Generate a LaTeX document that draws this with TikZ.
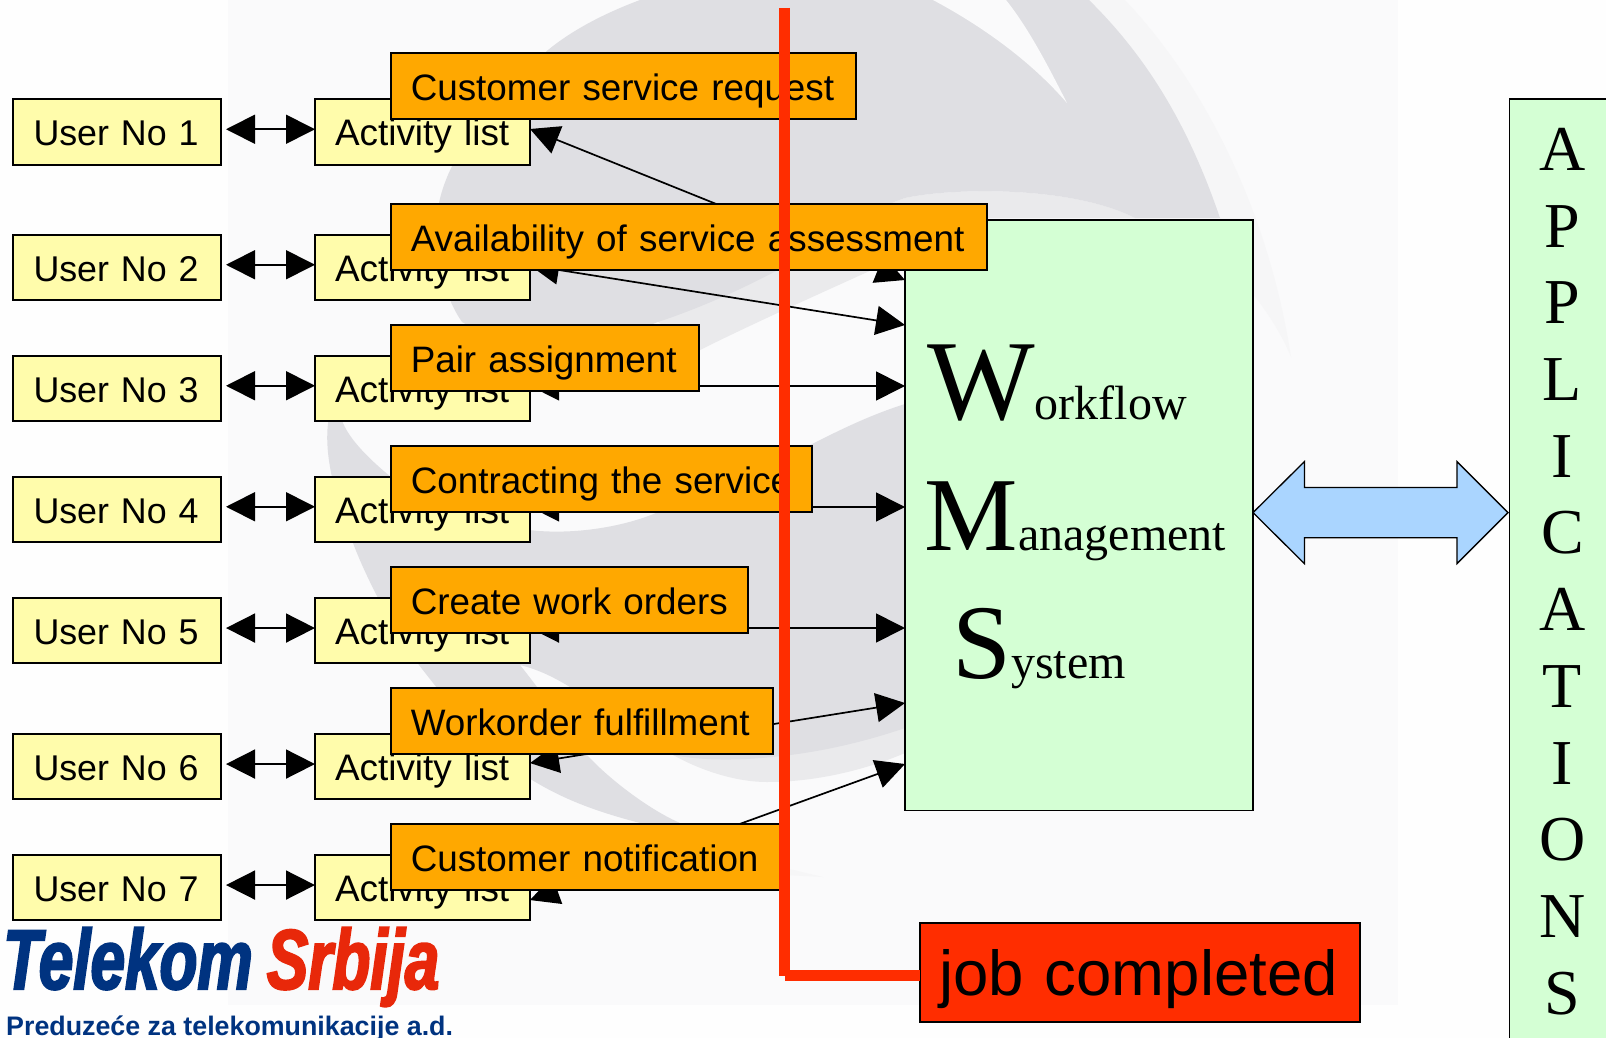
\documentclass[tikz,border=0pt]{standalone}
\usepackage{fontspec}
\setmainfont{Liberation Sans}
\newfontfamily\wmsserif{Liberation Serif}
\newfontfamily\logofont[BoldItalicFeatures={FakeBold=2.4,FakeStretch=0.73}]{Liberation Sans}
\usetikzlibrary{arrows.meta}
\definecolor{pagebg}{HTML}{FEFEFE}
\definecolor{slidebg}{HTML}{FAFAFB}
\definecolor{swoosh}{HTML}{DFDFE3}
\definecolor{swooshlight}{HTML}{EAEAEC}
\definecolor{halo}{HTML}{F6F6F7}
\definecolor{yellowfill}{HTML}{FFFCAB}
\definecolor{orangefill}{HTML}{FFA800}
\definecolor{greenfill}{HTML}{D4FFD4}
\definecolor{bluefill}{HTML}{AAD5FF}
\definecolor{redfill}{HTML}{FF2D00}
\definecolor{logoblue}{HTML}{003380}
\definecolor{logored}{HTML}{E8280A}
\tikzset{
  labelbox/.style={draw=black,line width=2pt,anchor=north west,outer sep=0pt,inner ysep=0pt,align=left},
  userbox/.style={labelbox,fill=yellowfill,inner xsep=20.5pt,text height=47pt,text depth=18.5pt,text width=167pt,font=\fontsize{35.8}{40}\selectfont},
  activitybox/.style={labelbox,fill=yellowfill,inner xsep=20pt,text height=47pt,text depth=18.5pt,text width=175pt,font=\fontsize{36.9}{40}\selectfont},
  orangebox/.style={labelbox,fill=orangefill,inner xsep=20pt,text height=47pt,text depth=19pt,text width=#1,font=\fontsize{36.8}{40}\selectfont},
  bothway/.style={line width=1.7pt,{Triangle[length=29pt,width=29pt]}-{Triangle[length=29pt,width=29pt]}},
  redline/.style={draw=redfill,line width=10.5pt},
  wmsline/.style={anchor=base west,inner sep=0pt,text=black}
}
\begin{document}
\begin{tikzpicture}[x=1pt,y=-1pt]
\useasboundingbox (0,0) rectangle (1606,1038);
% backdrop
\fill[pagebg] (0,0) rectangle (1606,1038);
\fill[slidebg] (228,0) rectangle (1398,1005);
\fill[halo] (1089,0) -- (1125,0) .. controls (1210,90) and (1270,220) .. (1291,357) .. controls (1280,330) and (1260,300) .. (1240,280) -- (1220,218) .. controls (1190,130) and (1150,60) .. (1089,0) -- cycle;
\fill[swooshlight] (778,270) .. controls (830,235) and (870,210) .. (905,198) .. controls (950,188) and (1070,185) .. (1135,218) -- (905,218) -- (905,255) .. controls (850,280) and (760,320) .. (700,350) -- (658,322) -- cycle;
\fill[swoosh] (640,0) .. controls (600,15) and (570,32) .. (548,50) .. controls (495,100) and (450,150) .. (439,203) .. controls (436,250) and (440,290) .. (462,322) .. controls (500,345) and (600,345) .. (658,322) .. controls (700,308) and (740,290) .. (778,270) .. controls (830,235) and (870,210) .. (905,198) .. controls (950,188) and (1070,185) .. (1135,218) -- (1220,218) .. controls (1190,130) and (1150,60) .. (1089,0) -- cycle;
\fill[slidebg] (933,0) .. controls (980,25) and (1030,60) .. (1067,103) .. controls (1050,70) and (1030,30) .. (1006,0) -- cycle;
\fill[swooshlight] (673,755) .. controls (700,770) and (735,782) .. (767,782) .. controls (820,782) and (870,768) .. (905,753) -- (905,728) -- cycle;
\fill[halo] (785,868) -- (823,877) -- (785,875) -- cycle;
\fill[swoosh] (335,400) .. controls (324,420) and (327,450) .. (330,467) .. controls (336,500) and (345,525) .. (353,543) .. controls (365,575) and (390,625) .. (419,665) .. controls (450,705) and (490,755) .. (532,780) .. controls (560,797) and (590,810) .. (640,823) .. controls (690,842) and (740,860) .. (782,870) .. controls (750,855) and (720,850) .. (680,823) .. controls (650,810) and (610,780) .. (587,755) .. controls (565,725) and (540,690) .. (520,665) .. controls (540,670) and (555,678) .. (570,687) .. controls (610,710) and (640,735) .. (673,755) .. controls (710,762) and (750,760) .. (790,755) .. controls (830,750) and (870,740) .. (905,728) -- (905,404) .. controls (870,415) and (840,430) .. (814,443) .. controls (760,470) and (710,495) .. (656,513) .. controls (620,528) and (570,535) .. (529,530) .. controls (480,525) and (425,505) .. (391,477) .. controls (370,460) and (350,440) .. (343,423) -- cycle;
% activity side
\foreach \n/\y in {1/99,2/234.5,3/355.5,4/476.5,5/597.8,6/733.8,7/854.8}{
  \node[userbox] (u\n) at (13,\y) {\mbox{User No \n}};
  \node[activitybox] (a\n) at (315,\y) {\mbox{Activity list}};
  \draw[bothway] ([shift={(5,-2.5)}]u\n.east) -- ([yshift=2.5pt]a\n.west);
}
% workflow box
\node[draw=black,line width=1.8pt,fill=greenfill,minimum width=348pt,minimum height=590.5pt,anchor=north west,outer sep=0pt] (wms) at (905,220) {};
\node[wmsline] (wmsw) at (927,419) {\wmsserif{\fontsize{114}{114}\selectfont W}{\fontsize{48}{48}\selectfont orkflow}};
\node[wmsline] (wmsm) at (924.5,550) {\wmsserif{\fontsize{105}{105}\selectfont M}{\fontsize{48}{48}\selectfont anagement}};
\node[wmsline] (wmss) at (952,678) {\wmsserif{\fontsize{106}{106}\selectfont S}{\fontsize{48}{48}\selectfont ystem}};
% entry points on the workflow box
\coordinate (w1) at (905,280);
\coordinate (w2) at (905,325);
\coordinate (w3) at (905,386);
\coordinate (w4) at (905,507);
\coordinate (w5) at (905,628);
\coordinate (w6) at (905,703);
\coordinate (w7) at (905,764);
\draw[bothway] ([yshift=2.75pt]a1.east) -- (w1);
\draw[bothway] ([yshift=1.85pt]a2.east) -- (w2);
\draw[bothway] ([yshift=2.35pt]a3.east) -- (w3);
\draw[bothway] ([yshift=2.35pt]a4.east) -- (w4);
\draw[bothway] ([yshift=2.5pt]a5.east) -- (w5);
\draw[bothway] ([yshift=3.5pt]a6.east) -- (w6);
\draw[bothway] ([yshift=-12.5pt]a7.east) -- (w7);
% task labels
\node[orangebox=425.2pt] (t1) at (390.8,53.3) {\mbox{Customer service request}};
\node[orangebox=555.8pt] (t2) at (390.8,204) {\mbox{Availability of service assessment}};
\node[orangebox=267.7pt] (t3) at (390.8,325) {\mbox{Pair assignment}};
\node[orangebox=381.2pt] (t4) at (390.8,446) {\mbox{Contracting the service}};
\node[orangebox=317.2pt] (t5) at (390.8,567.3) {\mbox{Create work orders}};
\node[orangebox=342.2pt] (t6) at (390.8,688.3) {\mbox{Workorder fulfillment}};
\node[orangebox=354pt] (t7) at (390.8,824.3) {\mbox{Customer notification}};
% applications
\fill[greenfill] (1509.5,98.7) rectangle (1606,1038);
\draw[line width=1.8pt] (1606,98.7) -- (1509.5,98.7) -- (1509.5,1038);
\node[anchor=north,inner sep=0pt,align=center,font=\wmsserif\fontsize{64}{76.7}\selectfont] (apps) at (1562.5,128) {A\\P\\P\\L\\I\\C\\A\\T\\I\\O\\N\\S};
% link arrow
\draw[line width=1.3pt,fill=bluefill,line join=miter] (1253,512.6) -- (1304.4,461.6) -- (1304.4,487.4) -- (1457,487.4) -- (1457,461.6) -- (1508,512.6) -- (1457,563.6) -- (1457,537.8) -- (1304.4,537.8) -- (1304.4,563.6) -- cycle;
% job completed
\node[labelbox,line width=1.8pt,fill=redfill,inner xsep=19pt,text height=72pt,text depth=27pt,text width=402pt,font=\fontsize{63.5}{70}\selectfont] (job) at (920,923) {\mbox{job completed}};
\coordinate (rtop) at (784.5,8);
\coordinate (rbot) at (784.5,975.5);
\draw[redline] (rtop) -- (rbot);
\draw[redline] (rbot) -- (rbot -| job.west);
% logo
\node[anchor=base west,inner sep=0pt,text=logoblue,font=\logofont\bfseries\itshape\fontsize{85}{90}\selectfont] (logo) at (3,989) {Telekom \kern-3pt\textcolor{logored}{Srbija}};
\node[anchor=base west,inner sep=0pt,text=logoblue,font=\bfseries\fontsize{26.8}{30}\selectfont] (logotag) at (6,1035) {Preduzeće za telekomunikacije a.d.};
\end{tikzpicture}
\end{document}
